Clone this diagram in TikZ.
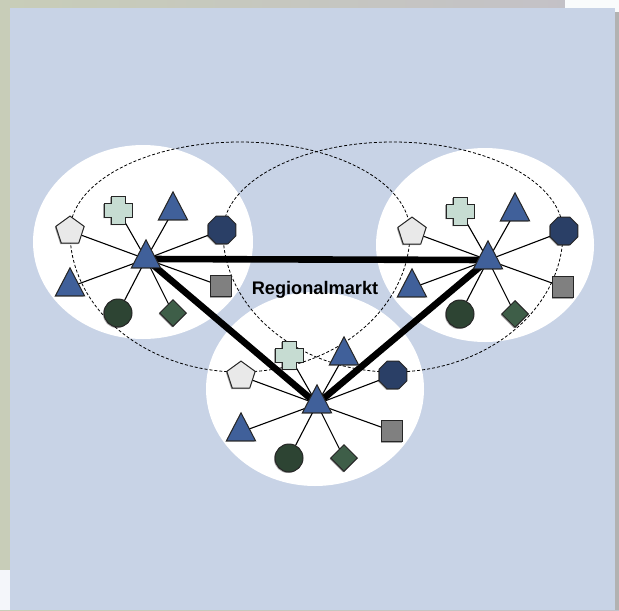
\documentclass[tikz,border=0pt]{standalone}
\usepackage{fontspec}
\setsansfont{Liberation Sans}
\usetikzlibrary{
  shapes.geometric,
  backgrounds,
  shadows,
}
\definecolor{panel}{HTML}{C8D3E6}
\definecolor{outer}{HTML}{C8CDB8}
\definecolor{outerb}{HTML}{C3C0C8}
\definecolor{trifill}{HTML}{40609A}
\definecolor{octfill}{HTML}{2A3F66}
\definecolor{pentfill}{HTML}{E9E9E9}
\definecolor{crossfill}{HTML}{C6DCD2}
\definecolor{boxfill}{HTML}{808080}
\definecolor{diafill}{HTML}{3E5E48}
\definecolor{discfill}{HTML}{2D4433}
\tikzset{
  font=\sffamily,
  item/.style={
    draw=black!85,
    line width=0.5pt,
    inner sep=0pt,
    drop shadow={shadow xshift=-0.5pt, shadow yshift=-0.5pt, opacity=0.35, fill=black},
  },
  tri/.style={item, fill=trifill, isosceles triangle, shape border rotate=90,
    isosceles triangle apex angle=55, minimum width=14pt, minimum height=14pt},
  pent/.style={item, fill=pentfill, regular polygon, regular polygon sides=5, minimum size=14.9pt},
  octa/.style={item, fill=octfill, regular polygon, regular polygon sides=8, minimum size=15.1pt},
  box/.style={item, fill=boxfill, rectangle, minimum size=10.5pt},
  dia/.style={item, fill=diafill, diamond, minimum width=13.5pt, minimum height=13.5pt},
  disc/.style={item, fill=discfill, circle, minimum size=14pt},
  spot/.style={rectangle, inner sep=0pt, minimum size=14pt},
  spoke/.style={line width=0.55pt, black},
  trunk/.style={line width=3.3pt, black},
  ring/.style={line width=0.4pt, dash pattern=on 1.5pt off 1pt, black},
  blob/.style={fill=white},
  pics/plus/.style={
    code={
      \fill[black, opacity=0.35, shift={(-1,-1)}]
        (-7,-14) -- (7,-14) -- (7,-7) -- (14,-7) -- (14,7) -- (7,7) -- (7,14)
        -- (-7,14) -- (-7,7) -- (-14,7) -- (-14,-7) -- (-7,-7) -- cycle;
      \draw[black!85, line width=0.5pt, fill=crossfill]
        (-7,-14) -- (7,-14) -- (7,-7) -- (14,-7) -- (14,7) -- (7,7) -- (7,14)
        -- (-7,14) -- (-7,7) -- (-14,7) -- (-14,-7) -- (-7,-7) -- cycle;
    }
  },
}

% one market: hub triangle with its eight members round it
\newcommand{\cluster}[3]{%
  \node[tri] (#1) at (#2,#3) {};
  \foreach \nm/\dx/\dy/\st in {
    pe/-76/28/pent, cr/-28/49/spot, tr/27/48/tri, oc/76/29/octa,
    sq/75/-27/box, di/27/-54/dia, ci/-28/-54/disc, tl/-76/-28/tri} {
    \node[\st] (#1-\nm) at (#2+\dx,#3+\dy) {};
    \begin{scope}[on background layer]
      \draw[spoke] (#1.center) -- (#1-\nm.center);
    \end{scope}
  }
  \pic at (#1-cr) {plus};
}

\begin{document}
\begin{tikzpicture}[x=0.5pt,y=0.5pt]
  \useasboundingbox (0,0) rectangle (619,-610);

  \begin{scope}[on background layer]
    % page behind the slide
    \shade[left color=outer, right color=outerb] (0,0) rectangle (619,-610);
    \fill[white!90!panel] (565,0) rectangle (619,-12);
    \fill[white!80!panel] (0,-570) rectangle (12,-610);
    \fill[black!30] (612,-12) rectangle (619,-610);
    \fill[panel] (10,-8) rectangle (615,-610);

    % white market areas
    \fill[blob] (143,-242) ellipse [x radius=110, y radius=97];
    \fill[blob] (485,-245) ellipse [x radius=109, y radius=97];
    \fill[blob] (315,-389) ellipse [x radius=109, y radius=97];

    % dashed overlap rings
    \draw[ring] (70,-232) arc[start angle=180, end angle=0, x radius=170, y radius=90]
      arc[start angle=0, end angle=-180, x radius=170, y radius=140] -- cycle;
    \draw[ring] (223,-232) arc[start angle=180, end angle=0, x radius=170, y radius=90]
      arc[start angle=0, end angle=-180, x radius=170, y radius=140] -- cycle;
  \end{scope}

  \cluster{L}{146}{-259}
  \cluster{R}{488}{-260}
  \cluster{B}{317}{-404}

  \begin{scope}[on background layer]
    \draw[trunk] (L.center) -- (R.center);
    \draw[trunk] (L.center) -- (B.center);
    \draw[trunk] (R.center) -- (B.center);
  \end{scope}

  \node[font=\sffamily\bfseries\fontsize{9.1}{11}\selectfont] (mkt) at (315,-290) {Regionalmarkt};
\end{tikzpicture}
\end{document}
